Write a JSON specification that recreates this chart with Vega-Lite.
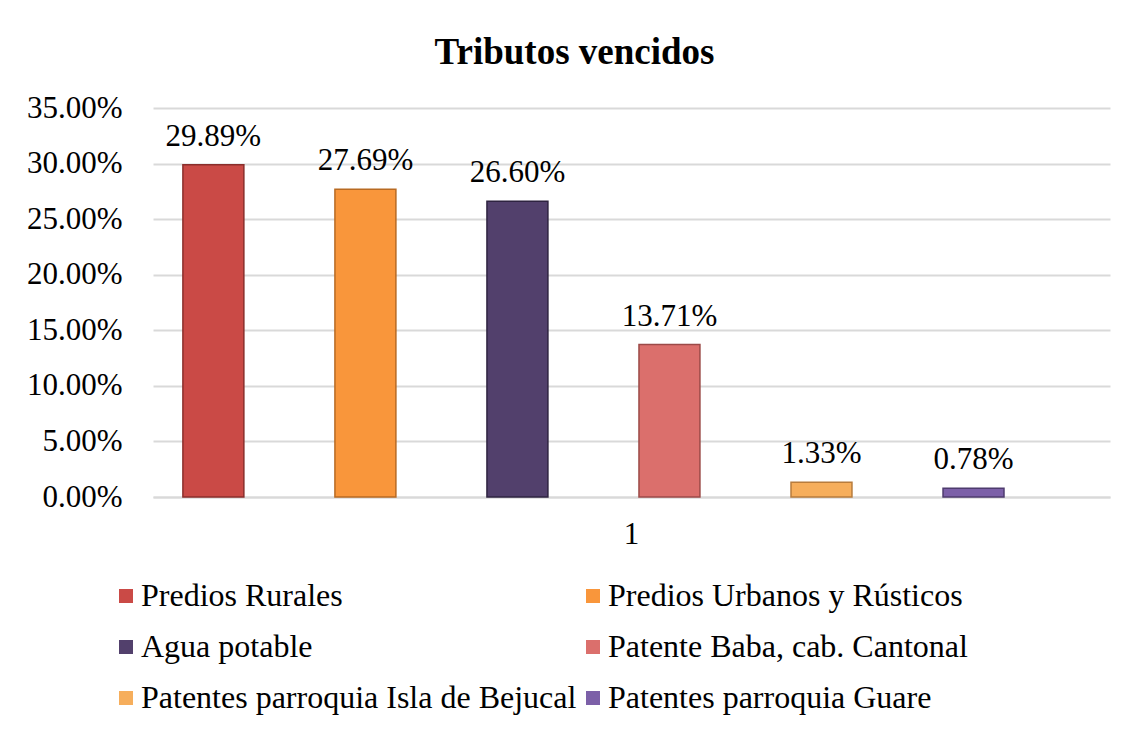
{
  "$schema": "https://vega.github.io/schema/vega-lite/v6.json",
  "width": 957,
  "height": 389,
  "autosize": {"type": "none"},
  "padding": {"left": 153, "top": 108, "right": 15, "bottom": 232},
  "background": "white",
  "title": {
    "text": "Tributos vencidos",
    "font": "Liberation Serif",
    "fontSize": 37,
    "fontWeight": "bold",
    "color": "#000000",
    "anchor": "middle",
    "dx": -57,
    "offset": 20
  },
  "config": {
    "view": {"stroke": null},
    "font": "Liberation Serif"
  },
  "data": {
    "values": [
      {"cat": "1", "series": "Predios Rurales", "value": 0.2989},
      {"cat": "1", "series": "Predios Urbanos y Rústicos", "value": 0.2769},
      {"cat": "1", "series": "Agua potable", "value": 0.2660},
      {"cat": "1", "series": "Patente Baba, cab. Cantonal", "value": 0.1371},
      {"cat": "1", "series": "Patentes parroquia Isla de Bejucal", "value": 0.0133},
      {"cat": "1", "series": "Patentes parroquia Guare", "value": 0.0078}
    ]
  },
  "encoding": {
    "x": {
      "field": "cat",
      "type": "nominal",
      "scale": {"paddingInner": 0, "paddingOuter": 0},
      "axis": {
        "title": null,
        "labelAngle": 0,
        "labelFont": "Liberation Serif",
        "labelFontSize": 31,
        "labelColor": "#000000",
        "labelPadding": 22,
        "ticks": false,
        "domain": true,
        "domainColor": "#D9D9D9",
        "domainWidth": 2
      }
    },
    "xOffset": {
      "field": "series",
      "type": "nominal",
      "sort": ["Predios Rurales", "Predios Urbanos y Rústicos", "Agua potable", "Patente Baba, cab. Cantonal", "Patentes parroquia Isla de Bejucal", "Patentes parroquia Guare"],
      "scale": {"paddingInner": 0.599, "paddingOuter": 0.447, "align": 0.22}
    },
    "y": {
      "field": "value",
      "type": "quantitative",
      "scale": {"domain": [0, 0.35], "nice": false},
      "axis": {
        "title": null,
        "values": [0, 0.05, 0.1, 0.15, 0.2, 0.25, 0.3, 0.35],
        "format": ".2%",
        "labelFont": "Liberation Serif",
        "labelFontSize": 31,
        "labelColor": "#000000",
        "labelPadding": 31,
        "ticks": false,
        "domain": false,
        "grid": true,
        "gridColor": "#D9D9D9",
        "gridWidth": 2
      }
    }
  },
  "layer": [
    {
      "mark": {"type": "bar", "strokeWidth": 1.5},
      "encoding": {
        "fill": {
          "field": "series",
          "type": "nominal",
          "sort": ["Predios Rurales", "Predios Urbanos y Rústicos", "Agua potable", "Patente Baba, cab. Cantonal", "Patentes parroquia Isla de Bejucal", "Patentes parroquia Guare"],
          "scale": {
            "domain": ["Predios Rurales", "Predios Urbanos y Rústicos", "Agua potable", "Patente Baba, cab. Cantonal", "Patentes parroquia Isla de Bejucal", "Patentes parroquia Guare"],
            "range": ["#CA4A46", "#F9963B", "#52406C", "#DB6F6C", "#F6AE5C", "#7C60A8"]
          },
          "legend": {
            "title": null,
            "orient": "none",
            "legendX": -43,
            "legendY": 472,
            "direction": "horizontal",
            "columns": 2,
            "columnPadding": -6,
            "rowPadding": 19,
            "symbolType": "square",
            "symbolSize": 196,
            "symbolStrokeWidth": 0,
            "labelOffset": -1,
            "labelFont": "Liberation Serif",
            "labelFontSize": 32,
            "labelColor": "#000000",
            "labelLimit": 600
          }
        },
        "stroke": {
          "field": "series",
          "type": "nominal",
          "scale": {
            "domain": ["Predios Rurales", "Predios Urbanos y Rústicos", "Agua potable", "Patente Baba, cab. Cantonal", "Patentes parroquia Isla de Bejucal", "Patentes parroquia Guare"],
            "range": ["#8A2E2B", "#B86A22", "#2E2340", "#9C4A48", "#B87C3C", "#4E3B6E"]
          },
          "legend": null
        }
      }
    },
    {
      "mark": {
        "type": "text",
        "font": "Liberation Serif",
        "fontSize": 31,
        "color": "#000000",
        "baseline": "alphabetic",
        "dy": -19
      },
      "encoding": {
        "text": {"field": "value", "type": "quantitative", "format": ".2%"}
      }
    }
  ]
}
